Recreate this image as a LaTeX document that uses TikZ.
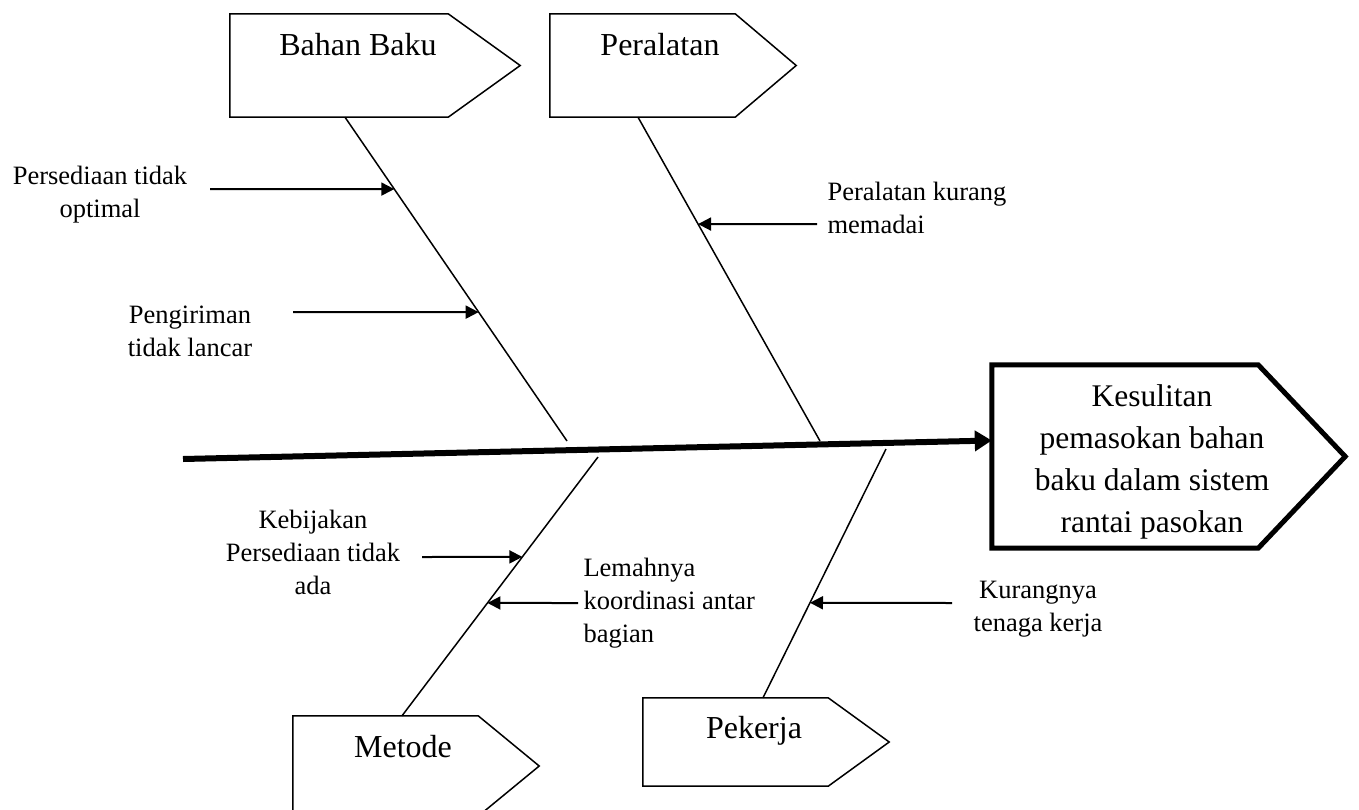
\documentclass[tikz,border=0pt]{standalone}
\usepackage{fontspec}
\setmainfont{Liberation Serif}
\usetikzlibrary{arrows.meta,calc}

\begin{document}
\begin{tikzpicture}[
  x=1pt,y=-1pt,
  spine/.style={line width=6pt,-{Triangle[length=17pt,width=20pt]}},
  bone/.style={line width=1.5pt},
  cause/.style={line width=2pt,-{Triangle[length=13pt,width=13pt]}},
  boxline/.style={line width=1.5pt,line join=miter},
  catbox/.style={rectangle,inner sep=0pt,minimum width=185pt},
  effectbox/.style={rectangle,inner sep=0pt,minimum width=266pt,minimum height=183pt},
  cattext/.style={anchor=base,font=\fontsize{32}{38}\selectfont},
  note/.style={anchor=base,align=center,font=\fontsize{26.5}{33}\selectfont},
  effecttext/.style={anchor=base,align=center,font=\fontsize{31.5}{42}\selectfont}
]
\useasboundingbox[fill=white] (0,0) rectangle (1359,809);
\clip (0,0) rectangle (1359,809);

% Category boxes
\node[catbox,minimum width=218pt,minimum height=103pt] (bb) at (339,65.5) {};
\node[catbox,minimum height=103pt] (pe) at (642.5,65.5) {};
\node[catbox,minimum height=100pt] (me) at (385.5,766) {};
\node[catbox,minimum height=88pt] (pk) at (735.5,742) {};
\foreach \n/\t in {bb/72,pe/61,me/61,pk/61}
  \draw[boxline] (\n.north west) -- (\n.north east) -- ([xshift=\t pt]\n.east)
    -- (\n.south east) -- (\n.south west) -- cycle;

\node[cattext] (bbt) at (358,55) {Bahan Baku};
\node[cattext] (pet) at (660,55) {Peralatan};
\node[cattext] (met) at (403,757) {Metode};
\node[cattext] (pkt) at (754,738) {Pekerja};

% Effect (base anchor = last line)
\node[effectbox] (eff) at (1125,456.5) {};
\draw[line width=5pt,line join=miter] (eff.north west) -- (eff.north east)
  -- ([xshift=87pt]eff.east) -- (eff.south east) -- (eff.south west) -- cycle;
\node[effecttext] (efft) at (1152,532)
  {Kesulitan\\pemasokan bahan\\baku dalam sistem\\rantai pasokan};

% Spine and bones
\coordinate (tail) at (183,459);
\draw[spine] (tail) -- ([yshift=16pt]eff.west);

\coordinate (bbend) at (567,441);
\coordinate (peend) at (820,441);
\coordinate (meend) at (598,457);
\coordinate (pkend) at (886,449);
\draw[bone] ([xshift=6pt]bb.south) coordinate (bbtop) -- (bbend);
\draw[bone] ([xshift=-4.5pt]pe.south) coordinate (petop) -- (peend);
\draw[bone] (meend) -- ([xshift=16.5pt]me.north) coordinate (metop);
\draw[bone] (pkend) -- ([xshift=27.5pt]pk.north) coordinate (pktop);

% Causes
\node[note] (c1) at (100,217) {Persediaan tidak\\optimal};
\node[note] (c2) at (190,356) {Pengiriman\\tidak lancar};
\node[note,anchor=base west,align=left] (c3) at (824,233) {Peralatan kurang\\memadai};
\node[note] (c4) at (313,594) {Kebijakan\\Persediaan tidak\\ada};
\node[note,anchor=base west,align=left] (c5) at (580,642) {Lemahnya\\koordinasi antar\\bagian};
\node[note] (c6) at (1038,631) {Kurangnya\\tenaga kerja};

\coordinate (s1) at (210,189);
\coordinate (s2) at (293,312);
\coordinate (s3) at (817,224);
\coordinate (s4) at (422,557);
\coordinate (s5) at (578,603);
\coordinate (s6) at (952,603);
\draw[cause] (s1) -- ($(bbtop)!0.222!(bbend)$);
\draw[cause] (s2) -- ($(bbtop)!0.602!(bbend)$);
\draw[cause] (s3) -- ($(petop)!0.330!(peend)$);
\draw[cause] (s4) -- ($(meend)!0.386!(metop)$);
\draw[cause] (s5) -- ($(meend)!0.564!(metop)$);
\draw[cause] (s6) -- ($(pkend)!0.618!(pktop)$);

\end{tikzpicture}
\end{document}
